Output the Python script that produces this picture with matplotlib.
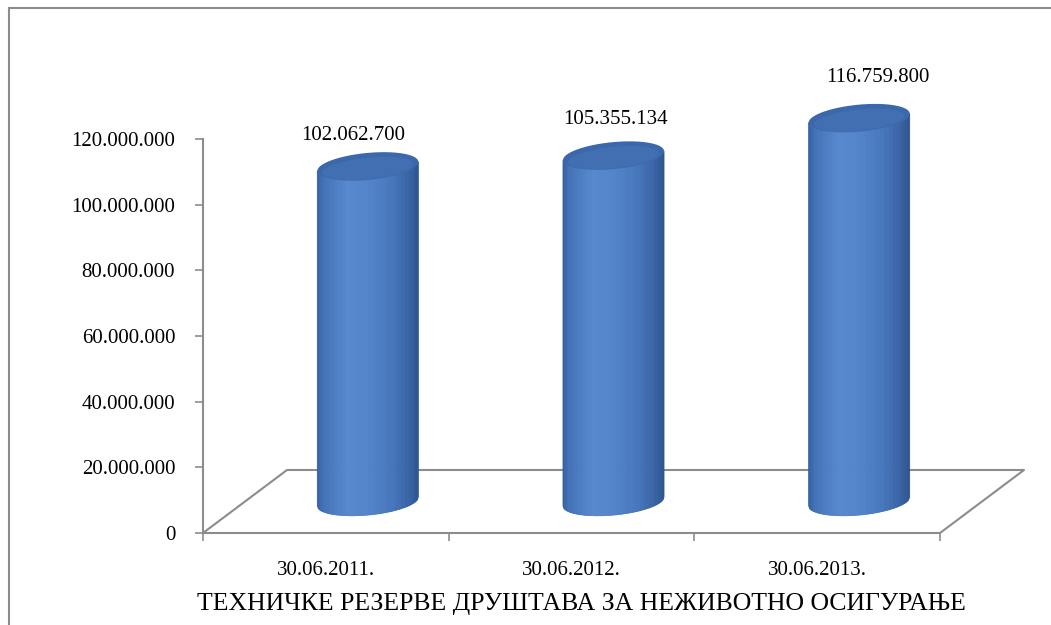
import numpy as np
import matplotlib.pyplot as plt
from matplotlib.lines import Line2D
from matplotlib.collections import PolyCollection
from matplotlib.colors import LinearSegmentedColormap
from matplotlib.ticker import FuncFormatter

categories = ['30.06.2011.', '30.06.2012.', '30.06.2013.']
values = [102062700, 105355134, 116759800]
y_ticks = [0, 20000000, 40000000, 60000000, 80000000, 100000000, 120000000]
title = 'ТЕХНИЧКЕ РЕЗЕРВЕ ДРУШТАВА ЗА НЕЖИВОТНО ОСИГУРАЊЕ'

plt.rcParams['font.family'] = ['Liberation Serif', 'DejaVu Serif']

W, H = 1051, 625
fig = plt.figure(figsize=(W / 100, H / 100), dpi=100)
ax = fig.add_axes([203 / W, 92 / H, 737 / W, 394 / H])
ax.set_xlim(0, 3)
ax.set_ylim(0, 120000000)
ax.patch.set_visible(False)

# pixel -> data units
px_x = 3 / 737
px_y = 120000000 / 394

# depth of the 3d floor
depth_dx = 84 * px_x
depth_dy = 63 * px_y

grey = '#8c8c8c'
ax.plot([0, depth_dx, 3 + depth_dx, 3], [0, depth_dy, depth_dy, 0],
        color=grey, lw=1.5, clip_on=False, zorder=1)

# cylinder shading left -> right
shade = LinearSegmentedColormap.from_list('cyl', [
    (0.0, '#345f9f'), (0.06, '#4272b6'), (0.3, '#5789cf'),
    (0.5, '#5384ca'), (0.75, '#4676bb'), (0.92, '#3862a3'), (1.0, '#2d5592')])

a = 50.5 * px_x
b = 13.5 * px_y
s = 4.5 * px_y
n = 90
u = np.linspace(-1, 1, n + 1)
half = np.sqrt(1 - u ** 2)

for i, v in enumerate(values):
    cx = i + 0.5 + depth_dx / 2
    base = depth_dy / 2
    top = base + v
    xs = cx + a * u
    low = base - b * half + s * u
    up = top - b * half + s * u
    polys = []
    cols = []
    for k in range(n):
        polys.append([(xs[k], low[k]), (xs[k + 1], low[k + 1]),
                      (xs[k + 1], up[k + 1]), (xs[k], up[k])])
        cols.append(shade((u[k] + u[k + 1] + 2) / 4))
    pc = PolyCollection(polys, facecolors=cols, edgecolors=cols, linewidths=0.6,
                        clip_on=False, zorder=3)
    ax.add_collection(pc)

    t = np.linspace(0, 2 * np.pi, 200)
    ax.fill(cx + a * np.cos(t), top + b * np.sin(t) + s * np.cos(t),
            color='#3b68ab', lw=0, clip_on=False, zorder=4)
    ax.fill(cx + 0.9 * a * np.cos(t), top + 0.8 * b * np.sin(t) + s * np.cos(t) - 0.15 * b,
            color='#416fb2', lw=0, clip_on=False, zorder=4)

    lbl = f'{v:,}'.replace(',', '.')
    ax.annotate(lbl, (cx, top), xytext=(-15 + 17 * i, 31 + 5 * i),
                textcoords='offset pixels', ha='center', va='center',
                fontsize=15, zorder=5, annotation_clip=False)

# axes
for side in ['top', 'right']:
    ax.spines[side].set_visible(False)
for side in ['left', 'bottom']:
    ax.spines[side].set_color(grey)
    ax.spines[side].set_linewidth(1.5)

ax.set_yticks(y_ticks)
ax.yaxis.set_major_formatter(FuncFormatter(lambda x, p: f'{int(x):,}'.replace(',', '.')))
ax.tick_params(axis='y', length=6, width=1.2, color=grey, pad=14, labelsize=15)

ax.set_xticks([0, 1, 2, 3])
ax.set_xticklabels([])
ax.set_xticks([0.5, 1.5, 2.5], minor=True)
ax.set_xticklabels(categories, minor=True)
ax.tick_params(axis='x', which='major', length=6, width=1.2, color=grey)
ax.tick_params(axis='x', which='minor', length=0, pad=20, labelsize=15)

ax.set_xlabel(title, fontsize=18.5)
ax.xaxis.set_label_coords(0.514, -0.152)

# chart border
fig.add_artist(Line2D([9 / W, 9 / W], [0, 1 - 8 / H], transform=fig.transFigure,
                      color=grey, lw=1.5))
fig.add_artist(Line2D([9 / W, 1], [1 - 8 / H, 1 - 8 / H], transform=fig.transFigure,
                      color=grey, lw=1.5))

fig.savefig('out.png', dpi=100)
